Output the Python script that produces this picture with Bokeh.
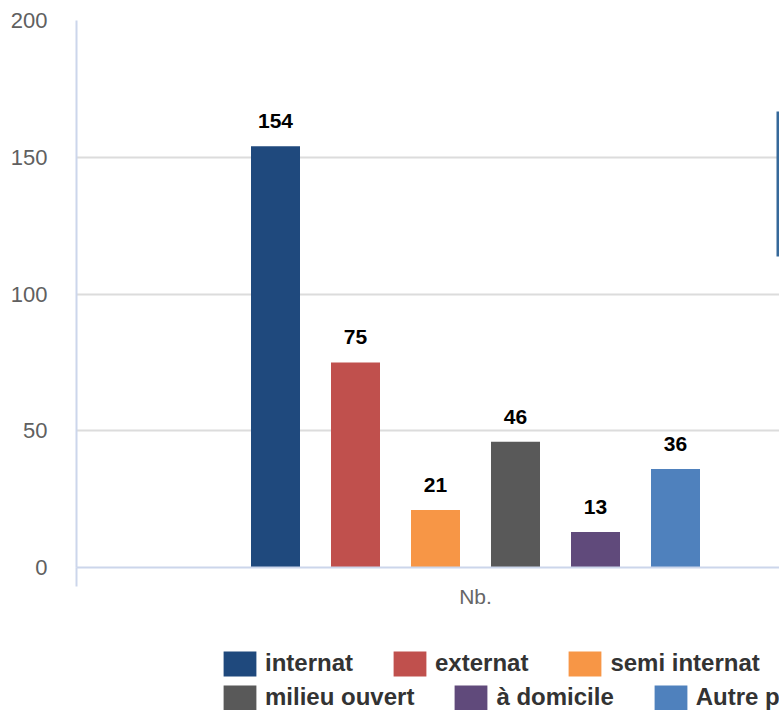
from bokeh.plotting import figure
from bokeh.layouts import column
from bokeh.models import (ColumnDataSource, Range1d, FixedTicker, LabelSet,
                          Legend, LegendItem, BoxAnnotation)
from bokeh.core.properties import value
from bokeh.embed import file_html
from bokeh.resources import INLINE

# ---- data ----
group_label = "Nb."
series_names = ["internat", "externat", "semi internat", "milieu ouvert", "à domicile", "Autre placement"]
values = [154, 75, 21, 46, 13, 36]
colors = ["#1f497d", "#c0504d", "#f79646", "#595959", "#604a7b", "#4f81bd"]
y_ticks = [0, 50, 100, 150, 200]

FONT = "Liberation Sans"
n = len(values)
positions = list(range(n))
center = (n - 1) / 2
x_start, x_end = -2.4875, 6.3

src = ColumnDataSource(dict(
    x=positions, top=values, color=colors, name=series_names,
    label=[str(v) for v in values],
))

p = figure(width=779, height=620, output_backend="svg", toolbar_location=None,
           x_range=Range1d(x_start, x_end), y_range=Range1d(0, 200),
           min_border_left=76, min_border_right=0, min_border_top=20,
           min_border_bottom=53)
p.outline_line_color = None
p.background_fill_color = "white"
p.border_fill_color = "white"

bars = p.vbar(x="x", top="top", bottom=0, width=0.6125, color="color",
              line_color=None, source=src)

# y axis
p.yaxis.ticker = FixedTicker(ticks=y_ticks)
p.yaxis.axis_line_color = "#ccd6eb"
p.yaxis.axis_line_width = 2
p.yaxis.major_tick_line_color = None
p.yaxis.minor_tick_line_color = None
p.yaxis.major_tick_out = 0
p.yaxis.minor_tick_out = 0
p.yaxis.major_label_standoff = 29
p.yaxis.major_label_text_font = FONT
p.yaxis.major_label_text_font_size = "22px"
p.yaxis.major_label_text_color = "#606060"

# x axis
p.xaxis.ticker = FixedTicker(ticks=[center], minor_ticks=[x_start])
p.xaxis.major_label_overrides = {center: group_label}
p.xaxis.axis_line_color = "#ccd6eb"
p.xaxis.axis_line_width = 2
p.xaxis.major_tick_line_color = None
p.xaxis.major_tick_out = 0
p.xaxis.minor_tick_line_color = "#ccd6eb"
p.xaxis.minor_tick_line_width = 2
p.xaxis.minor_tick_out = 19
p.xaxis.minor_tick_in = 0
p.xaxis.major_label_standoff = -2
p.xaxis.major_label_text_font = FONT
p.xaxis.major_label_text_font_size = "21px"
p.xaxis.major_label_text_color = "#666666"

p.xgrid.grid_line_color = None
p.ygrid.grid_line_color = "#dcdcdc"
p.ygrid.grid_line_width = 2

labels = LabelSet(x="x", y="top", text="label", source=src, y_offset=18,
                  text_align="center", text_baseline="alphabetic",
                  text_font=value(FONT), text_font_size=value("21px"),
                  text_font_style="bold", text_color="#000000")
p.add_layout(labels)

side = BoxAnnotation(left=776, right=779, top=111, bottom=256,
                     left_units="canvas", right_units="canvas",
                     top_units="canvas", bottom_units="canvas",
                     fill_color="#36699a", fill_alpha=1, line_color=None)
p.add_layout(side)

# ---- legend strip ----
lf = figure(width=779, height=90, output_backend="svg", toolbar_location=None,
            x_range=Range1d(0, 1), y_range=Range1d(0, 1),
            x_axis_type=None, y_axis_type=None, min_border=0)
lf.outline_line_color = None
lf.xgrid.visible = False
lf.ygrid.visible = False
proxy = lf.vbar(x="x", top="top", bottom=0, width=0.6125, color="color",
                line_color=None, source=src, visible=False)

def make_legend(idx, vy):
    items = [LegendItem(label=series_names[i], renderers=[proxy], index=i) for i in idx]
    return Legend(items=items, orientation="horizontal", location=(143, vy),
                  glyph_width=41, glyph_height=31, label_height=31,
                  label_standoff=5, spacing=36, padding=0, margin=0,
                  border_line_color=None, background_fill_alpha=0,
                  label_text_font=FONT, label_text_font_size="24px",
                  label_text_font_style="bold", label_text_color="#333333")

lf.add_layout(make_legend([0, 1, 2], 31.5), "center")
lf.add_layout(make_legend([3, 4, 5], -2.5), "center")

layout = column(p, lf, spacing=0)
open("out.html", "w").write(file_html(layout, INLINE))
